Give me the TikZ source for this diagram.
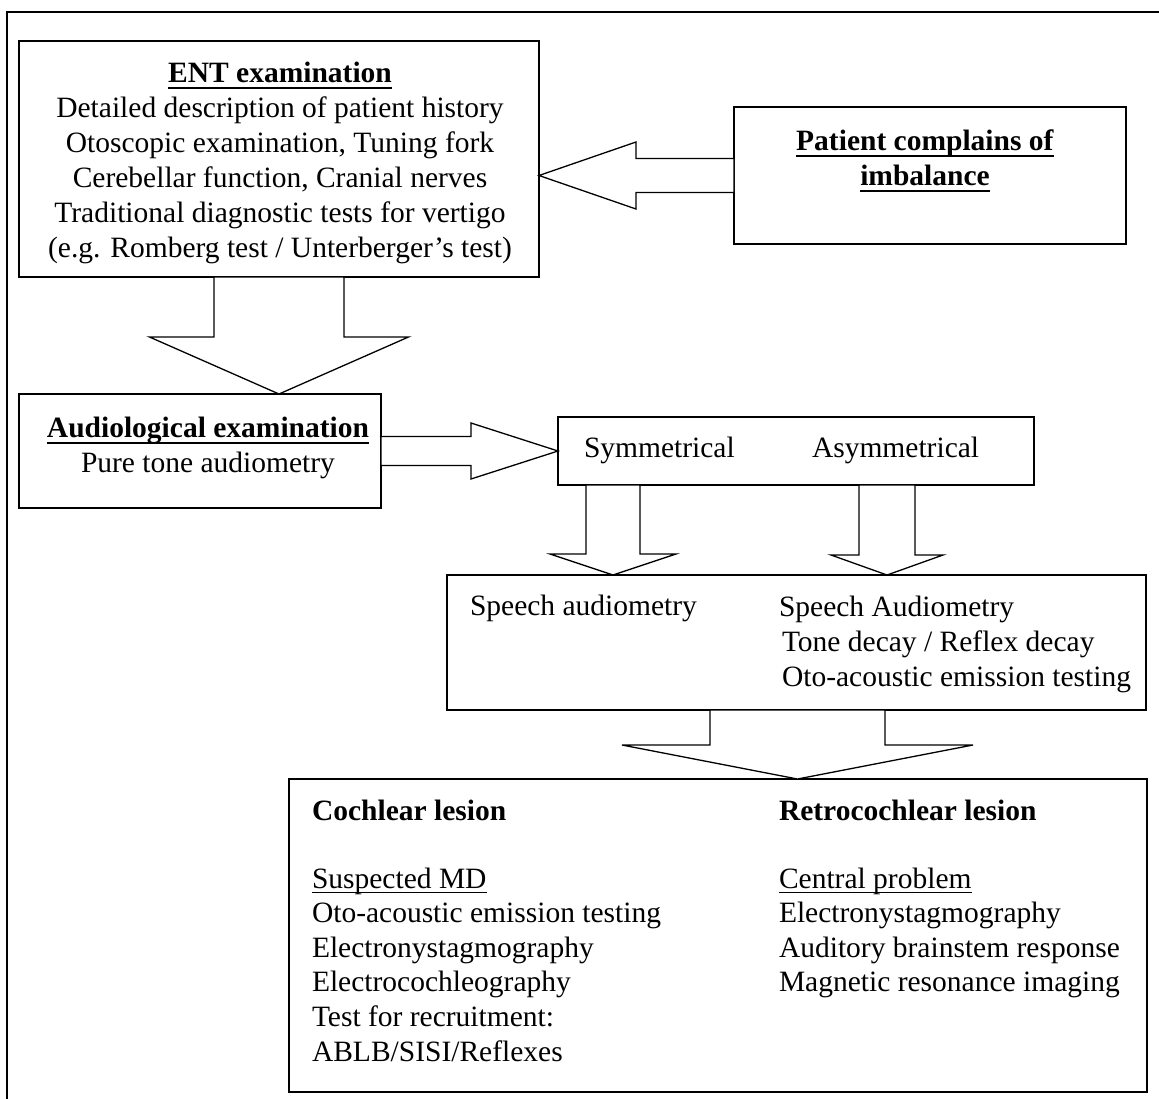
\documentclass[tikz,border=0pt]{standalone}
\usepackage{fontspec}
\setmainfont{Liberation Serif}
\usetikzlibrary{calc}
\newcommand\ulb[1]{\setbox0\hbox{#1}\leavevmode\rlap{\rule[-7pt]{\wd0}{2.4pt}}\box0}
\newcommand\ulr[1]{\setbox0\hbox{#1}\leavevmode\rlap{\rule[-5pt]{\wd0}{1.4pt}}\box0}
\begin{document}
\begin{tikzpicture}[x=1pt,y=-1pt,
  box/.style={draw,line width=1.3pt,rectangle,inner sep=0pt,outer sep=0pt},
  blk/.style={draw,line width=1.3pt,fill=white,line join=miter},
  txt/.style={font=\fontsize{29.5}{35}\selectfont,inner sep=0pt,outer sep=0pt},
  txl/.style={font=\fontsize{29.5}{34.6}\selectfont,inner sep=0pt,outer sep=0pt}]
\useasboundingbox (0,0) rectangle (1159,1098);
% outer frame (only top and left edges visible)
\draw[line width=2.6pt] (7,1110) -- (7,12) -- (1170,12);
% boxes
\node[box,minimum width=520pt,minimum height=236pt] (ent) at (279,159) {};
\node[box,minimum width=392pt,minimum height=137pt] (pat) at (930,175.5) {};
\node[box,minimum width=362pt,minimum height=114pt] (aud) at (200,451) {};
\node[box,minimum width=476pt,minimum height=68pt] (sym) at (796,451) {};
\node[box,minimum width=699pt,minimum height=135pt] (spe) at (796.5,642.5) {};
\node[box,minimum width=858pt,minimum height=313pt] (les) at (718,935.5) {};
% helper coordinates
\coordinate (s1) at ($(sym.south west)+(55,0)$);
\coordinate (s2) at ($(sym.south west)+(329,0)$);
\coordinate (s3) at ($(spe.south west)+(350.5,0)$);
% block arrows
\draw[blk] ($(pat.west)+(0,-17)$) -- ($(pat.west)+(-98,-17)$) -- ($(pat.west)+(-98,-33.5)$)
  -- (ent.east |- pat.west) -- ($(pat.west)+(-98,33.5)$) -- ($(pat.west)+(-98,17)$)
  -- ($(pat.west)+(0,17)$) -- cycle;
\draw[blk] ($(ent.south)+(-65,0)$) -- ++(0,60) -- ++(-64.5,0) -- (ent.south |- aud.north)
  -- ($(ent.south)+(129.5,60)$) -- ++(-64.5,0) -- ($(ent.south)+(65,0)$) -- cycle;
\draw[blk] ($(aud.east)+(0,-14.5)$) -- ++(90,0) -- ++(0,-13.5) -- (sym.west)
  -- ($(aud.east)+(90,28)$) -- ++(0,-13.5) -- ($(aud.east)+(0,14.5)$) -- cycle;
\draw[blk] ($(s1)+(-27,0)$) -- ++(0,69) -- ++(-36,0) -- (s1 |- spe.north)
  -- ($(s1)+(63,69)$) -- ++(-36,0) -- ($(s1)+(27,0)$) -- cycle;
\draw[blk] ($(s2)+(-28,0)$) -- ++(0,70) -- ++(-28,0) -- (s2 |- spe.north)
  -- ($(s2)+(56,70)$) -- ++(-28,0) -- ($(s2)+(28,0)$) -- cycle;
\draw[blk] ($(s3)+(-87.5,0)$) -- ++(0,35) -- ++(-88,0) -- (s3 |- les.north)
  -- ($(s3)+(175.5,35)$) -- ++(-88,0) -- ($(s3)+(87.5,0)$) -- cycle;
% texts
\node[txt,align=center,anchor=north] (entt) at (280,57.5)
  {\strut\ulb{\textbf{ENT examination}}\\ Detailed description of patient history\\
   Otoscopic examination, Tuning fork\\ Cerebellar function, Cranial nerves\\
   Traditional diagnostic tests for vertigo\\ (e.g. Romberg test / Unterberger’s test)};
\node[txt,align=center,anchor=north] (patt) at (925,125.5)
  {\strut\ulb{\textbf{Patient complains of}}\\ \ulb{\textbf{imbalance}}};
\node[txt,align=center,anchor=north] (audt) at (208,412.5)
  {\strut\ulb{\textbf{Audiological examination}}\\ Pure tone audiometry};
\node[txt,anchor=base west] (symt) at (584,457) {Symmetrical};
\node[txt,anchor=base west] (asyt) at (812,457) {Asymmetrical};
\node[txt,anchor=base west] (spa) at (470,615) {Speech audiometry};
\node[txt,anchor=base west] (spb) at (779,616) {Speech Audiometry};
\node[txt,align=left,anchor=north west] (spc) at (782,626.5)
  {\strut Tone decay / Reflex decay\\ Oto-acoustic emission testing};
\node[txt,anchor=base west] (coh) at (312,820) {\textbf{Cochlear lesion}};
\node[txt,anchor=base west] (reh) at (779,820) {\textbf{Retrocochlear lesion}};
\node[txl,align=left,anchor=north west] (col) at (312,863.8)
  {\strut\ulr{Suspected MD}\\ Oto-acoustic emission testing\\ Electronystagmography\\
   Electrocochleography\\ Test for recruitment:\\ ABLB/SISI/Reflexes};
\node[txl,align=left,anchor=north west] (rel) at (779,863.8)
  {\strut\ulr{Central problem}\\ Electronystagmography\\ Auditory brainstem response\\
   Magnetic resonance imaging};
\end{tikzpicture}
\end{document}
